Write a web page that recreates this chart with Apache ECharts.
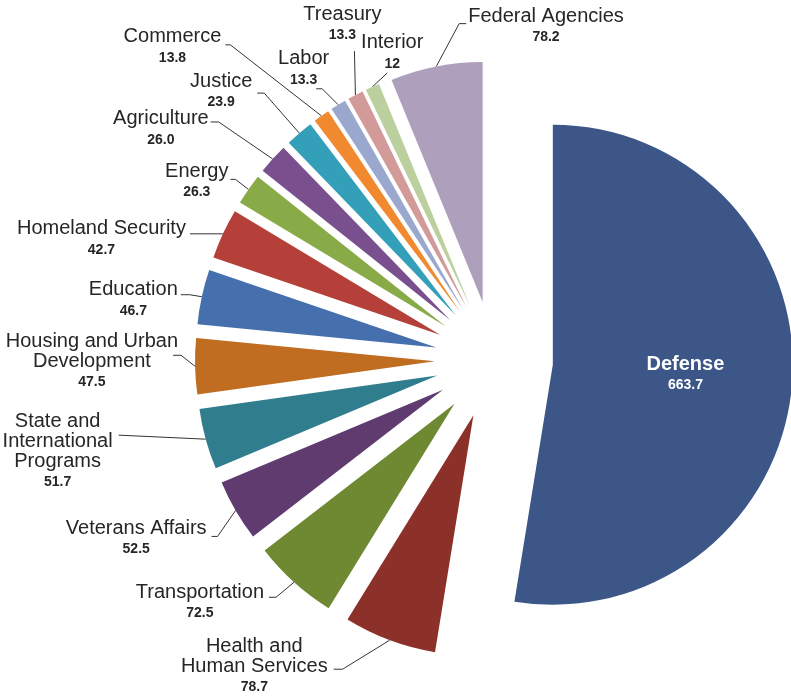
<!doctype html>
<html>
<head>
    <meta charset="utf-8">
    <title>Federal Agencies</title>
    <style>
        html, body { margin: 0; padding: 0; background: #fff; }
        #chartPie { width: 791px; height: 696px; }
    </style>
</head>
<body>
<div id="chartPie"></div>
<script src="https://cdn.jsdelivr.net/npm/echarts@6/dist/echarts.min.js"></script>
<script>
    // 数据
    var names = ['Defense', 'Health and\nHuman Services', 'Transportation', 'Veterans Affairs',
        'State and\nInternational\nPrograms', 'Housing and Urban\nDevelopment', 'Education',
        'Homeland Security', 'Energy', 'Agriculture', 'Justice', 'Commerce', 'Labor',
        'Treasury', 'Interior', 'Federal Agencies'];
    var values = [663.7, 78.7, 72.5, 52.5, 51.7, 47.5, 46.7, 42.7, 26.3, 26.0, 23.9, 13.8, 13.3, 13.3, 12, 78.2];
    var valueLabels = ['663.7', '78.7', '72.5', '52.5', '51.7', '47.5', '46.7', '42.7', '26.3', '26.0',
        '23.9', '13.8', '13.3', '13.3', '12', '78.2'];
    var colors = ['#3B5687', '#8C3129', '#6E8931', '#5F3B6F', '#307D8E', '#C06C21', '#4570AD', '#B5403A',
        '#89AB47', '#7A4F8E', '#349FB8', '#F0892F', '#9AA8CE', '#D29A99', '#BBD09E', '#AE9FBC'];

    // 饼图几何（像素）
    var cx = 494, cy = 360, R = 240, explode = 59;
    var lineLen = 10, labelGap = 5, nameLH = 20, valueLH = 22;
    // 标签位置: [引线端点相对扇区外缘dx, dy, 折点水平距离, 文字相对端点dx, 文字顶部相对端点dy]
    var labelPos = [null,
        [-56, 29, 9, -6, -33],
        [-25, 15, 7, -5, -15],
        [-24, 26, 6, -5, -18],
        [-87, -4, 0, -6, -24],
        [-22, -11, 8, 5, -24],
        [-21, -2, 9, -3, -15],
        [-33, 0, 0, -4, -15],
        [-18, -10, 5, -2, -18],
        [-62, -37, 8, -2, -13],
        [-42, -40, 7, -5, -22],
        [-96, -71, 5, -4, -18],
        [-22, -16, 6, 13, -40],
        [-1, -44, 0, 27, -47],
        [15, -14, 0, 36, -40],
        [30, -43, -7, 2, -17]
    ];

    var font = '"Liberation Sans", Arial, sans-serif';

    function midAngle(i) {
        var total = 0, before = 0;
        for (var k = 0; k < values.length; k++) {
            total += values[k];
            if (k < i) before += values[k];
        }
        return (before + values[i] / 2) / total * Math.PI * 2;
    }

    function chartPie(id) {
        var myChart = echarts.init(document.getElementById(id));
        var data = [];
        for (var i = 0; i < values.length; i++) {
            var item = {
                name: names[i],
                value: values[i],
                selected: true,
                itemStyle: {color: colors[i]}
            };
            if (i === 0) {
                item.label = {
                    position: 'inside',
                    padding: [0, 0, 0, 20],
                    formatter: '{d|Defense}\n{dv|' + valueLabels[0] + '}'
                };
                item.labelLine = {show: false};
            } else {
                // 根据目标位置反推引线长度和内边距
                var a = midAngle(i), ux = Math.sin(a), uy = -Math.cos(a);
                var p = labelPos[i];
                var ex = cx + (R + explode) * ux + p[0];
                var ey = cy + (R + explode) * uy + p[1];
                var tx = ex + p[3], ty = ey + p[4];
                var rr = R + explode + lineLen;
                var h = names[i].split('\n').length * nameLH + valueLH;
                var shift = 2 * (ty - (cy + rr * uy) + h / 2);
                item.labelLine = {length2: cx + rr * ux - labelGap - tx};
                item.label = {padding: [Math.max(shift, 0), 0, Math.max(-shift, 0), 0]};
            }
            data.push(item);
        }
        var option = {
            animation: false,
            series: [{
                type: 'pie',
                center: [cx, cy],
                radius: R,
                startAngle: 90,
                clockwise: true,
                selectedMode: 'multiple',
                selectedOffset: explode,
                silent: true,
                avoidLabelOverlap: false,
                label: {
                    position: 'outside',
                    distanceToLabelLine: labelGap,
                    fontFamily: font,
                    formatter: function (p) {
                        return '{n|' + p.name + '}\n{v|' + valueLabels[p.dataIndex] + '}';
                    },
                    rich: {
                        n: {fontFamily: font, fontSize: 20, color: '#262626', lineHeight: nameLH, align: 'center'},
                        v: {fontFamily: font, fontSize: 14, fontWeight: 'bold', color: '#262626', lineHeight: valueLH, align: 'center'},
                        d: {fontFamily: font, fontSize: 20, fontWeight: 'bold', color: '#fff', lineHeight: 22, align: 'center'},
                        dv: {fontFamily: font, fontSize: 14, fontWeight: 'bold', color: '#fff', lineHeight: 20, align: 'center'}
                    }
                },
                labelLine: {
                    show: true,
                    length: lineLen,
                    length2: 10,
                    lineStyle: {color: '#333', width: 1}
                },
                labelLayout: function (params) {
                    var i = params.dataIndex;
                    if (i === 0) return {};
                    var a = midAngle(i);
                    var ux = Math.sin(a), uy = -Math.cos(a);
                    var p = labelPos[i];
                    // 引线坐标需减去选中偏移
                    var ox = explode * ux, oy = explode * uy;
                    var p0x = cx + (R + explode) * ux, p0y = cy + (R + explode) * uy;
                    var ex = p0x + p[0], ey = p0y + p[1];
                    var res = {
                        labelLinePoints: [[p0x - ox, p0y - oy], [ex + p[2] - ox, ey - oy], [ex - ox, ey - oy]]
                    };
                    if (i === 15) res.align = 'left';
                    return res;
                },
                emphasis: {disabled: true},
                data: data
            }]
        };
        myChart.setOption(option);
    }

    chartPie('chartPie');
</script>
</body>
</html>
